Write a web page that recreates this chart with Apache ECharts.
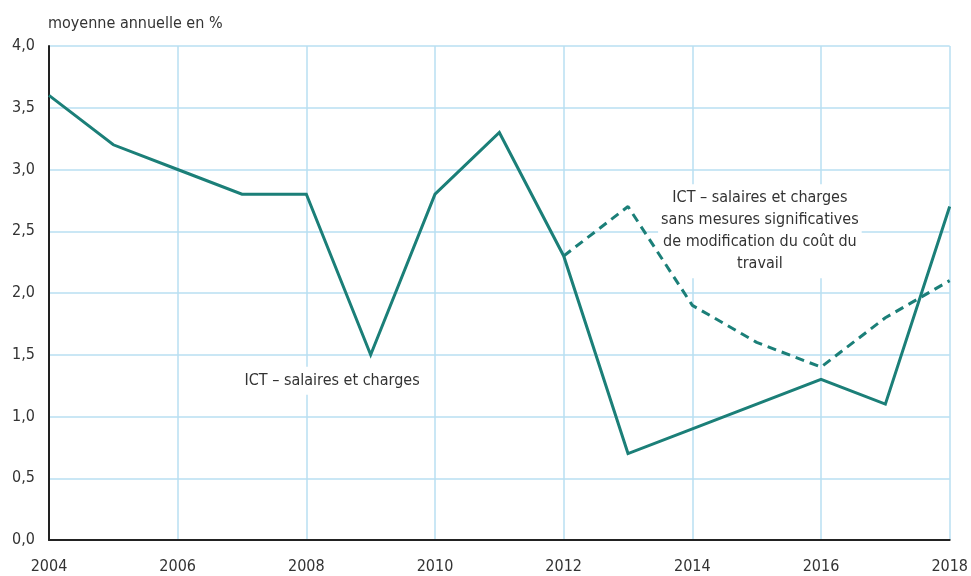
<!DOCTYPE html>
<html>
<head>
<meta charset="utf-8">
<script src="https://cdn.jsdelivr.net/npm/echarts@6/dist/echarts.min.js"></script>
<style>
  html, body { margin: 0; padding: 0; background: #fff; }
  #chart { width: 971px; height: 576px; }
</style>
</head>
<body>
<div id="chart"></div>
<script>
const FONT = '"Liberation Sans Narrow", "DejaVu Sans Condensed", sans-serif';
const TEAL = '#1b7f78';
const GRID = '#b8dff2';

// years and values
const years = [2004, 2005, 2006, 2007, 2008, 2009, 2010, 2011, 2012, 2013, 2014, 2015, 2016, 2017, 2018];
const ictTotal = [3.6, 3.2, 3.0, 2.8, 2.8, 1.5, 2.8, 3.3, 2.3, 0.7, 0.9, 1.1, 1.3, 1.1, 2.7];
const ictYears = [2012, 2013, 2014, 2015, 2016, 2017, 2018];
const ictSansMesures = [2.3, 2.7, 1.9, 1.6, 1.4, 1.8, 2.1];

const subtitle = 'moyenne annuelle en %';
const labelTotal = 'ICT – salaires et charges';
const labelSans = 'ICT – salaires et charges\nsans mesures significatives\nde modification du coût du\ntravail';

const chart = echarts.init(document.getElementById('chart'));

const annot = (coord, text) => ({
    coord,
    symbolSize: 0,
    label: {
        show: true,
        position: 'inside',
        formatter: text,
        color: '#333',
        fontFamily: FONT,
        fontSize: 16,
        lineHeight: 22,
        align: 'center',
        backgroundColor: '#fff',
        padding: [3, 3]
    }
});

chart.setOption({
    animation: false,
    title: {
        text: subtitle,
        left: 43,
        top: 11,
        textStyle: { color: '#333', fontFamily: FONT, fontSize: 16, fontWeight: 'normal' }
    },
    grid: { left: 49, right: 17, top: 46, bottom: 36 },
    xAxis: {
        type: 'value',
        min: 2004,
        max: 2018,
        interval: 2,
        axisLine: { show: true, lineStyle: { color: '#222', width: 2 } },
        axisTick: { show: false },
        splitLine: { show: true, lineStyle: { color: GRID, width: 1.5 } },
        axisLabel: {
            margin: 19,
            color: '#333',
            fontFamily: FONT,
            fontSize: 16,
            formatter: v => String(v)
        }
    },
    yAxis: {
        type: 'value',
        min: 0,
        max: 4,
        interval: 0.5,
        axisLine: { show: true, onZero: false, lineStyle: { color: '#222', width: 2 } },
        axisTick: { show: false },
        splitLine: { show: true, lineStyle: { color: GRID, width: 1.5 } },
        axisLabel: {
            margin: 14,
            color: '#333',
            fontFamily: FONT,
            fontSize: 16,
            formatter: v => v.toFixed(1).replace('.', ',')
        }
    },
    series: [
        {
            // holder for the text labels, drawn under the lines
            name: 'labels',
            type: 'scatter',
            data: [],
            z: 1,
            markPoint: {
                silent: true,
                z: 1,
                data: [
                    annot([2008.4, 1.29], labelTotal),
                    annot([2015.05, 2.5], labelSans)
                ]
            }
        },
        {
            name: labelTotal,
            type: 'line',
            data: years.map((y, i) => [y, ictTotal[i]]),
            symbol: 'none',
            lineStyle: { color: TEAL, width: 3, join: 'miter' },
            z: 4
        },
        {
            name: 'sans mesures',
            type: 'line',
            data: ictYears.map((y, i) => [y, ictSansMesures[i]]),
            symbol: 'none',
            lineStyle: { color: TEAL, width: 3, type: [9, 6] },
            z: 3
        }
    ]
});
</script>
</body>
</html>
